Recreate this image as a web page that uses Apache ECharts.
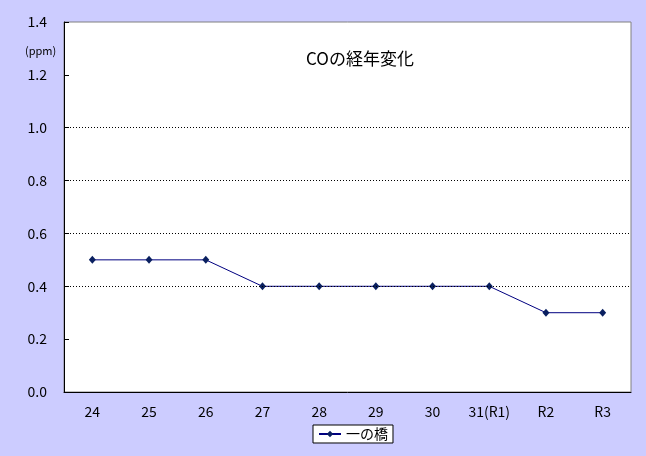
<!DOCTYPE html>
<html><head><meta charset="utf-8">
<script src="https://cdn.jsdelivr.net/npm/echarts@6/dist/echarts.min.js"></script>
<style>html,body{margin:0;padding:0;background:#CCCCFF;}#c{width:646px;height:456px;}</style>
</head><body><div id="c"></div>
<script>
const categories = ['24','25','26','27','28','29','30','31(R1)','R2','R3'];
const seriesName = '一の橋';
const values = [0.5,0.5,0.5,0.4,0.4,0.4,0.4,0.4,0.3,0.3];
const gridValues = [0.4,0.6,0.8,1.0];
const titleText = 'COの経年変化';
const unitText = '(ppm)';

const font = '"Noto Sans CJK JP", "Noto Sans", sans-serif';
const chart = echarts.init(document.getElementById('c'));
chart.setOption({
  backgroundColor: '#CCCCFF',
  animation: false,
  title: [
    {text: titleText, left: 355, top: 45, textAlign: 'center',
     textStyle: {fontFamily: font, fontSize: 17, fontWeight: 'normal', color: '#000'}},
    {text: unitText, left: 20, top: 40,
     textStyle: {fontFamily: font, fontSize: 11, fontWeight: 'normal', color: '#000'}}
  ],
  legend: {
    data: [seriesName], top: 425, left: 313,
    backgroundColor: '#fff', borderColor: '#000', borderWidth: 1,
    padding: [2, 5], itemWidth: 22, itemHeight: 8, itemGap: 4,
    textStyle: {fontFamily: font, fontSize: 14, color: '#000'}
  },
  grid: {left: 64, top: 22, right: 15, bottom: 64, show: true,
         backgroundColor: '#fff', borderColor: '#808080', borderWidth: 1},
  xAxis: {
    type: 'category', data: categories,
    axisLine: {lineStyle: {color: '#000', width: 1}},
    axisTick: {inside: true, length: 5, lineStyle: {color: '#000'}},
    axisLabel: {fontFamily: font, fontSize: 14, color: '#000', margin: 13}
  },
  yAxis: {
    type: 'value', min: 0, max: 1.4, interval: 0.2,
    axisLine: {show: true, lineStyle: {color: '#000', width: 1}},
    axisTick: {show: true, inside: true, length: 5, lineStyle: {color: '#000'}},
    axisLabel: {fontFamily: font, fontSize: 14, color: '#000', margin: 17,
                formatter: v => v.toFixed(1)},
    splitLine: {show: false}
  },
  series: [{
    name: seriesName, type: 'line', data: values,
    symbol: 'diamond', symbolSize: [7, 8],
    lineStyle: {color: '#000080', width: 1},
    itemStyle: {color: '#0A2060'},
    markLine: {
      silent: true, symbol: 'none', label: {show: false},
      lineStyle: {color: '#000', type: [1, 2], width: 1},
      data: gridValues.map(v => ({yAxis: v}))
    },
    z: 3
  }]
});
</script></body></html>
